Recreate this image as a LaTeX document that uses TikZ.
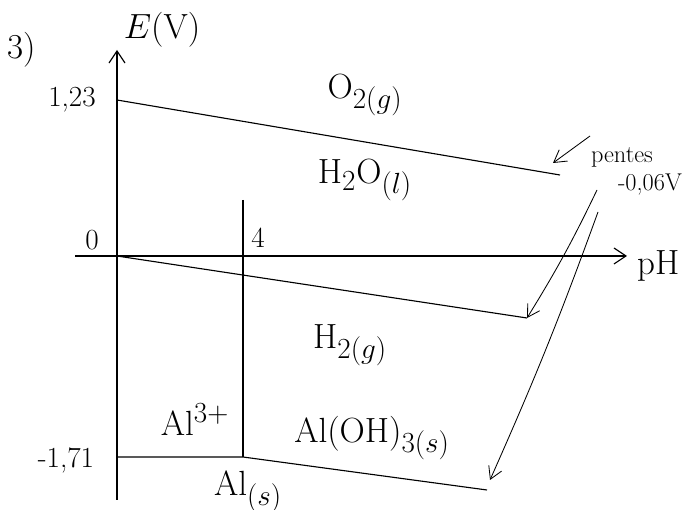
\documentclass[tikz,border=0pt]{standalone}
\usepackage{amsmath}
\usetikzlibrary{positioning, arrows.meta}

\tikzset{
  axis/.style={thick, -{Straight Barb[length=3mm, width=4mm]}},
  border/.style={thick},
  pente/.style={semithick, -{Straight Barb[length=3mm, width=3.5mm]}},
  species/.style={font=\Huge},
  tick/.style={font=\huge}
}

\begin{document}
\begin{tikzpicture}[x=0.025cm, y=-0.025cm]
    \useasboundingbox (0,0) rectangle (693,510);

    % Axes
    \coordinate (Ebot) at (117,500);
    \coordinate (Etop) at (117,50);
    \coordinate (pHl) at (75,256);
    \coordinate (pHr) at (627,256);
    \draw[axis] (Ebot) -- (Etop);
    \draw[axis] (pHl) -- (pHr);
    \node[font=\Huge] (Elab) at (162,30) {$E(\mathrm{V})$};
    \node[font=\Huge] (pHlab) at (659,266) {pH};
    \node[font=\Huge] (num) at (22,50) {3)};

    % Boundaries
    \coordinate (Oa) at (117,100);
    \coordinate (Ob) at (560,175);
    \coordinate (Ha) at (117,256);
    \coordinate (Hb) at (527,318);
    \coordinate (Va) at (243,200);
    \coordinate (Vb) at (243,457);
    \coordinate (Aa) at (117,457);
    \coordinate (Ab) at (487,490);
    \draw[border] (Oa) -- (Ob);
    \draw[border] (Ha) -- (Hb);
    \draw[border] (Va) -- (Vb);
    \draw[border] (Aa) -- (Vb) -- (Ab);

    % Values
    \node[tick] (v123) at (72,100) {1,23};
    \node[tick] (v0) at (92,240) {0};
    \node[tick] (v4) at (258,238) {4};
    \node[tick] (v171) at (66,460) {-1,71};

    % Species
    \node[species] (O2) at (365,95) {$\mathrm{O}_{2(g)}$};
    \node[species] (H2O) at (365,180) {$\mathrm{H}_2\mathrm{O}_{(l)}$};
    \node[species] (H2) at (350,345) {$\mathrm{H}_{2(g)}$};
    \node[species] (Al3) at (195,420) {$\mathrm{Al}^{3+}$};
    \node[species] (AlOH) at (372,438) {$\mathrm{Al(OH)}_{3(s)}$};
    \node[species] (Al) at (248,492) {$\mathrm{Al}_{(s)}$};

    % Slopes
    \node[font=\LARGE] (pentes) at (622,157) {pentes};
    \node[font=\LARGE] (slope) at (650,185) {-0,06V};
    \coordinate (s1) at (590,136);
    \coordinate (s2) at (597,190);
    \coordinate (s3) at (598,212);
    \draw[pente] (s1) -- (553,163);
    \draw[pente] (s2) to[bend left=3] (Hb);
    \draw[pente] (s3) to[bend left=2] (490,480);
\end{tikzpicture}
\end{document}
